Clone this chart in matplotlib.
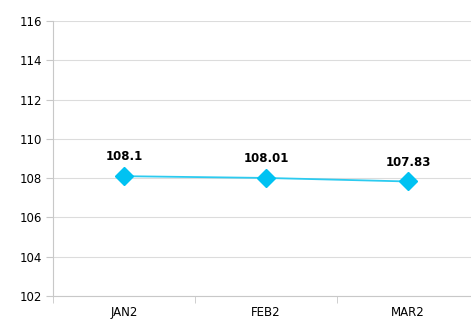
import matplotlib.pyplot as plt

months = ["JAN2", "FEB2", "MAR2"]
values = [108.1, 108.01, 107.83]
y_ticks = [102, 104, 106, 108, 110, 112, 114, 116]

fig = plt.figure(figsize=(4.71, 3.2), dpi=100)
ax = fig.add_axes([53 / 471, 24 / 320, 426 / 471, 275 / 320])

x = list(range(len(months)))
ax.plot(x, values, color="#2ccbf0", linewidth=1.3, marker="D",
        markersize=9, markerfacecolor="#00c2f2", markeredgecolor="#00c2f2",
        zorder=3)

for xi, v in zip(x, values):
    ax.annotate(f"{v:g}", (xi, v), xytext=(0, 14), textcoords="offset points",
                ha="center", va="center", fontsize=8.5, fontweight="bold",
                color="black")

ax.set_xlim(-0.5, 2.5)
ax.set_ylim(102, 116)
ax.set_yticks(y_ticks)
ax.set_yticklabels([str(t) for t in y_ticks], fontsize=8.5)
ax.set_xticks(x)
ax.set_xticklabels(months, fontsize=8.5)
ax.set_xticks([-0.5, 0.5, 1.5], minor=True)
# labels sit low, right at the bottom edge like the original
ax.tick_params(axis="x", which="major", length=0, pad=7)
ax.tick_params(axis="x", which="minor", length=5, color="#c8c8c8")
ax.tick_params(axis="y", length=5, color="#c8c8c8", pad=3)

ax.grid(axis="y", color="#dcdcdc", linewidth=0.8)
ax.set_axisbelow(True)
for side in ["top", "right"]:
    ax.spines[side].set_visible(False)
for side in ["left", "bottom"]:
    ax.spines[side].set_color("#c8c8c8")

fig.savefig("out.png", dpi=100)
